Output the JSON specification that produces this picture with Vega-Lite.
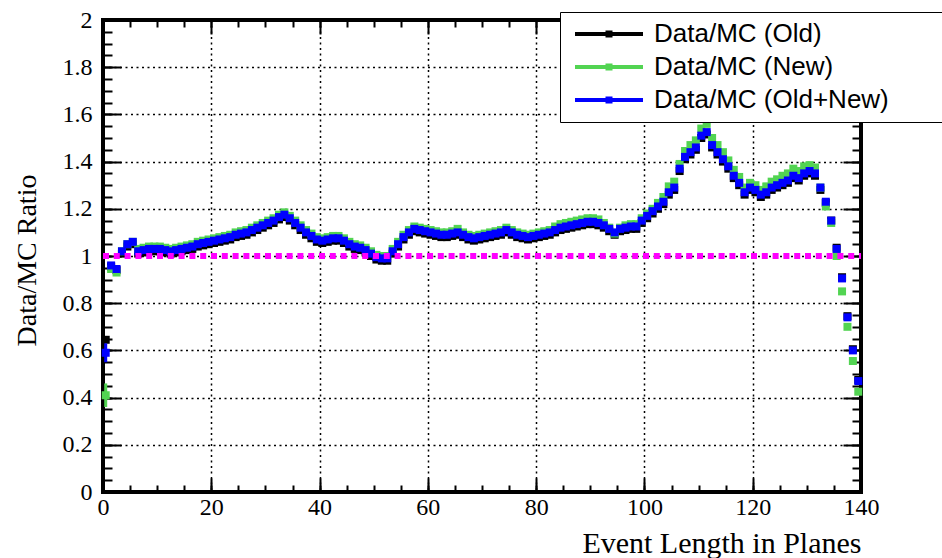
{
  "$schema": "https://vega.github.io/schema/vega-lite/v6.json",
  "width": 758,
  "height": 472,
  "autosize": "none",
  "padding": {"left": 103, "top": 20, "right": 81, "bottom": 66},
  "background": "white",
  "config": {
    "view": {"stroke": "black", "strokeWidth": 4},
    "axis": {
      "labelFont": "Liberation Serif",
      "labelFontSize": 24,
      "labelColor": "black",
      "titleFont": "Liberation Serif",
      "titleFontSize": 28,
      "titleFontWeight": "normal",
      "titleColor": "black",
      "domain": false
    }
  },
  "datasets": {
    "ratio": [
      {"x":0.5,"s1":0.645,"s2":0.41,"s3":0.59},
      {"x":1.5,"s1":0.955,"s2":0.945,"s3":0.96},
      {"x":2.5,"s1":0.94,"s2":0.93,"s3":0.945},
      {"x":3.5,"s1":1.01,"s2":1.02,"s3":1.02},
      {"x":4.5,"s1":1.04,"s2":1.05,"s3":1.05},
      {"x":5.5,"s1":1.05,"s2":1.06,"s3":1.06},
      {"x":6.5,"s1":1.01,"s2":1.03,"s3":1.02},
      {"x":7.5,"s1":1.015,"s2":1.035,"s3":1.025},
      {"x":8.5,"s1":1.02,"s2":1.04,"s3":1.03},
      {"x":9.5,"s1":1.02,"s2":1.04,"s3":1.03},
      {"x":10.5,"s1":1.02,"s2":1.04,"s3":1.03},
      {"x":11.5,"s1":1.015,"s2":1.035,"s3":1.025},
      {"x":12.5,"s1":1.01,"s2":1.03,"s3":1.02},
      {"x":13.5,"s1":1.015,"s2":1.035,"s3":1.025},
      {"x":14.5,"s1":1.02,"s2":1.04,"s3":1.03},
      {"x":15.5,"s1":1.025,"s2":1.045,"s3":1.035},
      {"x":16.5,"s1":1.03,"s2":1.05,"s3":1.04},
      {"x":17.5,"s1":1.04,"s2":1.06,"s3":1.05},
      {"x":18.5,"s1":1.045,"s2":1.065,"s3":1.055},
      {"x":19.5,"s1":1.05,"s2":1.07,"s3":1.06},
      {"x":20.5,"s1":1.055,"s2":1.075,"s3":1.065},
      {"x":21.5,"s1":1.06,"s2":1.08,"s3":1.07},
      {"x":22.5,"s1":1.065,"s2":1.085,"s3":1.075},
      {"x":23.5,"s1":1.07,"s2":1.09,"s3":1.08},
      {"x":24.5,"s1":1.08,"s2":1.10,"s3":1.09},
      {"x":25.5,"s1":1.085,"s2":1.105,"s3":1.095},
      {"x":26.5,"s1":1.09,"s2":1.11,"s3":1.10},
      {"x":27.5,"s1":1.10,"s2":1.12,"s3":1.11},
      {"x":28.5,"s1":1.11,"s2":1.13,"s3":1.12},
      {"x":29.5,"s1":1.12,"s2":1.14,"s3":1.13},
      {"x":30.5,"s1":1.13,"s2":1.15,"s3":1.14},
      {"x":31.5,"s1":1.14,"s2":1.16,"s3":1.15},
      {"x":32.5,"s1":1.155,"s2":1.175,"s3":1.165},
      {"x":33.5,"s1":1.165,"s2":1.185,"s3":1.175},
      {"x":34.5,"s1":1.15,"s2":1.17,"s3":1.16},
      {"x":35.5,"s1":1.13,"s2":1.15,"s3":1.14},
      {"x":36.5,"s1":1.11,"s2":1.13,"s3":1.12},
      {"x":37.5,"s1":1.09,"s2":1.11,"s3":1.10},
      {"x":38.5,"s1":1.075,"s2":1.095,"s3":1.085},
      {"x":39.5,"s1":1.06,"s2":1.08,"s3":1.07},
      {"x":40.5,"s1":1.055,"s2":1.075,"s3":1.065},
      {"x":41.5,"s1":1.06,"s2":1.08,"s3":1.07},
      {"x":42.5,"s1":1.065,"s2":1.085,"s3":1.075},
      {"x":43.5,"s1":1.065,"s2":1.085,"s3":1.075},
      {"x":44.5,"s1":1.055,"s2":1.075,"s3":1.065},
      {"x":45.5,"s1":1.04,"s2":1.06,"s3":1.05},
      {"x":46.5,"s1":1.03,"s2":1.05,"s3":1.04},
      {"x":47.5,"s1":1.025,"s2":1.045,"s3":1.035},
      {"x":48.5,"s1":1.015,"s2":1.035,"s3":1.025},
      {"x":49.5,"s1":1.0,"s2":1.02,"s3":1.01},
      {"x":50.5,"s1":0.985,"s2":1.005,"s3":0.995},
      {"x":51.5,"s1":0.98,"s2":1.0,"s3":0.99},
      {"x":52.5,"s1":0.98,"s2":1.0,"s3":0.99},
      {"x":53.5,"s1":1.01,"s2":1.03,"s3":1.02},
      {"x":54.5,"s1":1.04,"s2":1.06,"s3":1.05},
      {"x":55.5,"s1":1.07,"s2":1.09,"s3":1.08},
      {"x":56.5,"s1":1.09,"s2":1.11,"s3":1.10},
      {"x":57.5,"s1":1.105,"s2":1.125,"s3":1.115},
      {"x":58.5,"s1":1.10,"s2":1.12,"s3":1.11},
      {"x":59.5,"s1":1.095,"s2":1.115,"s3":1.105},
      {"x":60.5,"s1":1.09,"s2":1.11,"s3":1.10},
      {"x":61.5,"s1":1.085,"s2":1.105,"s3":1.095},
      {"x":62.5,"s1":1.08,"s2":1.10,"s3":1.09},
      {"x":63.5,"s1":1.08,"s2":1.10,"s3":1.09},
      {"x":64.5,"s1":1.085,"s2":1.105,"s3":1.095},
      {"x":65.5,"s1":1.09,"s2":1.115,"s3":1.10},
      {"x":66.5,"s1":1.08,"s2":1.10,"s3":1.09},
      {"x":67.5,"s1":1.07,"s2":1.09,"s3":1.08},
      {"x":68.5,"s1":1.065,"s2":1.085,"s3":1.075},
      {"x":69.5,"s1":1.07,"s2":1.09,"s3":1.08},
      {"x":70.5,"s1":1.075,"s2":1.095,"s3":1.085},
      {"x":71.5,"s1":1.08,"s2":1.10,"s3":1.09},
      {"x":72.5,"s1":1.085,"s2":1.105,"s3":1.095},
      {"x":73.5,"s1":1.09,"s2":1.11,"s3":1.10},
      {"x":74.5,"s1":1.10,"s2":1.12,"s3":1.11},
      {"x":75.5,"s1":1.09,"s2":1.11,"s3":1.10},
      {"x":76.5,"s1":1.08,"s2":1.10,"s3":1.09},
      {"x":77.5,"s1":1.075,"s2":1.095,"s3":1.085},
      {"x":78.5,"s1":1.07,"s2":1.09,"s3":1.08},
      {"x":79.5,"s1":1.075,"s2":1.095,"s3":1.085},
      {"x":80.5,"s1":1.08,"s2":1.10,"s3":1.09},
      {"x":81.5,"s1":1.085,"s2":1.105,"s3":1.095},
      {"x":82.5,"s1":1.09,"s2":1.11,"s3":1.10},
      {"x":83.5,"s1":1.10,"s2":1.125,"s3":1.11},
      {"x":84.5,"s1":1.11,"s2":1.135,"s3":1.12},
      {"x":85.5,"s1":1.115,"s2":1.14,"s3":1.125},
      {"x":86.5,"s1":1.12,"s2":1.145,"s3":1.13},
      {"x":87.5,"s1":1.125,"s2":1.15,"s3":1.135},
      {"x":88.5,"s1":1.13,"s2":1.155,"s3":1.14},
      {"x":89.5,"s1":1.135,"s2":1.16,"s3":1.145},
      {"x":90.5,"s1":1.135,"s2":1.16,"s3":1.145},
      {"x":91.5,"s1":1.13,"s2":1.155,"s3":1.14},
      {"x":92.5,"s1":1.12,"s2":1.14,"s3":1.13},
      {"x":93.5,"s1":1.105,"s2":1.12,"s3":1.115},
      {"x":94.5,"s1":1.09,"s2":1.095,"s3":1.10},
      {"x":95.5,"s1":1.105,"s2":1.12,"s3":1.115},
      {"x":96.5,"s1":1.11,"s2":1.13,"s3":1.12},
      {"x":97.5,"s1":1.115,"s2":1.135,"s3":1.125},
      {"x":98.5,"s1":1.115,"s2":1.135,"s3":1.125},
      {"x":99.5,"s1":1.14,"s2":1.16,"s3":1.15},
      {"x":100.5,"s1":1.16,"s2":1.18,"s3":1.17},
      {"x":101.5,"s1":1.18,"s2":1.20,"s3":1.19},
      {"x":102.5,"s1":1.20,"s2":1.225,"s3":1.21},
      {"x":103.5,"s1":1.22,"s2":1.25,"s3":1.23},
      {"x":104.5,"s1":1.26,"s2":1.295,"s3":1.27},
      {"x":105.5,"s1":1.28,"s2":1.315,"s3":1.29},
      {"x":106.5,"s1":1.36,"s2":1.39,"s3":1.37},
      {"x":107.5,"s1":1.41,"s2":1.445,"s3":1.42},
      {"x":108.5,"s1":1.43,"s2":1.47,"s3":1.44},
      {"x":109.5,"s1":1.45,"s2":1.49,"s3":1.46},
      {"x":110.5,"s1":1.50,"s2":1.54,"s3":1.51},
      {"x":111.5,"s1":1.515,"s2":1.56,"s3":1.525},
      {"x":112.5,"s1":1.46,"s2":1.50,"s3":1.47},
      {"x":113.5,"s1":1.43,"s2":1.47,"s3":1.44},
      {"x":114.5,"s1":1.40,"s2":1.44,"s3":1.41},
      {"x":115.5,"s1":1.37,"s2":1.405,"s3":1.38},
      {"x":116.5,"s1":1.33,"s2":1.365,"s3":1.34},
      {"x":117.5,"s1":1.30,"s2":1.335,"s3":1.31},
      {"x":118.5,"s1":1.26,"s2":1.29,"s3":1.27},
      {"x":119.5,"s1":1.28,"s2":1.31,"s3":1.29},
      {"x":120.5,"s1":1.27,"s2":1.30,"s3":1.28},
      {"x":121.5,"s1":1.25,"s2":1.28,"s3":1.26},
      {"x":122.5,"s1":1.26,"s2":1.295,"s3":1.27},
      {"x":123.5,"s1":1.28,"s2":1.315,"s3":1.29},
      {"x":124.5,"s1":1.29,"s2":1.325,"s3":1.30},
      {"x":125.5,"s1":1.30,"s2":1.34,"s3":1.31},
      {"x":126.5,"s1":1.31,"s2":1.35,"s3":1.32},
      {"x":127.5,"s1":1.33,"s2":1.37,"s3":1.34},
      {"x":128.5,"s1":1.32,"s2":1.36,"s3":1.33},
      {"x":129.5,"s1":1.34,"s2":1.38,"s3":1.35},
      {"x":130.5,"s1":1.35,"s2":1.385,"s3":1.36},
      {"x":131.5,"s1":1.34,"s2":1.375,"s3":1.35},
      {"x":132.5,"s1":1.28,"s2":1.29,"s3":1.29},
      {"x":133.5,"s1":1.225,"s2":1.21,"s3":1.23},
      {"x":134.5,"s1":1.15,"s2":1.14,"s3":1.15},
      {"x":135.5,"s1":1.035,"s2":1.0,"s3":1.03},
      {"x":136.5,"s1":0.91,"s2":0.85,"s3":0.905},
      {"x":137.5,"s1":0.745,"s2":0.70,"s3":0.74},
      {"x":138.5,"s1":0.605,"s2":0.555,"s3":0.60},
      {"x":139.5,"s1":0.475,"s2":0.425,"s3":0.47}
    ],
    "errs": [
      {"x":0.5,"series":"s3","lo":0.55,"hi":0.63},
      {"x":0.5,"series":"s2","lo":0.36,"hi":0.46}
    ],
    "unity": [{"a":0,"b":140,"v":1}]
  },
  "layer": [
    {
      "data": {"name": "ratio"},
      "transform": [{"fold": ["s1","s2","s3"], "as": ["series","ratio"]}],
      "mark": {"type": "point", "filled": true, "shape": "square", "size": 64, "opacity": 1},
      "encoding": {
        "x": {"field": "x", "type": "quantitative",
          "scale": {"domain": [0,140], "nice": false, "zero": false},
          "axis": {"orient": "bottom", "values": [0,20,40,60,80,100,120,140], "format": "d",
            "ticks": false, "grid": true, "gridColor": "black", "gridDash": [2,3.5], "gridWidth": 1.5, "gridOpacity": 1,
            "labelPadding": 3, "labelFlush": false, "labelOverlap": false,
            "title": "Event Length in Planes", "titleFontSize": 30, "titleX": 758, "titleY": 60, "titleAlign": "right", "titleBaseline": "alphabetic"}},
        "y": {"field": "ratio", "type": "quantitative",
          "scale": {"domain": [0,2], "nice": false, "zero": false},
          "axis": {"orient": "left", "values": [0,0.2,0.4,0.6,0.8,1,1.2,1.4,1.6,1.8,2], "format": "~g",
            "ticks": false, "grid": true, "gridColor": "black", "gridDash": [2,3.5], "gridWidth": 1.5, "gridOpacity": 1,
            "labelPadding": 11, "labelFlush": false, "labelOverlap": false,
            "title": "Data/MC Ratio", "titleX": -76, "titleY": 240, "titleAlign": "center", "titleBaseline": "middle"}},
        "color": {"field": "series", "type": "nominal",
          "scale": {"domain": ["s1","s2","s3"], "range": ["#000000","#52d452","#0000ff"]},
          "legend": {"title": null, "orient": "none", "legendX": 457, "legendY": -8,
            "symbolType": "M-3.4,-0.2H3.4V0.2H-3.4Z M-0.35,-0.35H0.35V0.35H-0.35Z",
            "symbolSize": 400, "symbolStrokeWidth": 0, "symbolOffset": 27,
            "labelFont": "Liberation Sans", "labelFontSize": 26, "labelColor": "black", "labelLimit": 0,
            "labelOffset": 32,
            "labelExpr": "datum.value == 's1' ? 'Data/MC (Old)' : datum.value == 's2' ? 'Data/MC (New)' : 'Data/MC (Old+New)\u2800\u2800\u2800\u2800\u2800\u2800'",
            "strokeColor": "black", "fillColor": "white", "padding": 9, "rowPadding": 7}},
        "order": {"field": "series", "sort": "ascending"}
      }
    },
    {
      "data": {"name": "errs"},
      "mark": {"type": "rule", "strokeWidth": 3},
      "encoding": {
        "x": {"field": "x", "type": "quantitative",
          "scale": {"domain": [0,140], "nice": false, "zero": false},
          "axis": {"orient": "bottom", "offset": -14, "values": [0,20,40,60,80,100,120,140], "labels": false, "grid": false,
            "ticks": true, "tickSize": 14, "tickWidth": 2, "tickColor": "black", "title": null}},
        "y": {"field": "lo", "type": "quantitative",
          "scale": {"domain": [0,2], "nice": false, "zero": false},
          "axis": {"orient": "left", "offset": -18, "values": [0,0.2,0.4,0.6,0.8,1,1.2,1.4,1.6,1.8,2], "labels": false, "grid": false,
            "ticks": true, "tickSize": 18, "tickWidth": 2, "tickColor": "black", "title": null}},
        "y2": {"field": "hi"},
        "color": {"field": "series", "type": "nominal"}
      }
    },
    {
      "data": {"name": "unity"},
      "mark": {"type": "rule", "color": "#ff00ff", "strokeWidth": 6, "strokeDash": [6,4.8]},
      "encoding": {
        "x": {"field": "a", "type": "quantitative",
          "scale": {"domain": [0,140], "nice": false, "zero": false},
          "axis": {"orient": "bottom", "offset": -7, "values": [0,5,10,15,20,25,30,35,40,45,50,55,60,65,70,75,80,85,90,95,100,105,110,115,120,125,130,135,140],
            "labels": false, "grid": false, "ticks": true, "tickSize": 7, "tickWidth": 2, "tickColor": "black", "title": null}},
        "x2": {"field": "b"},
        "y": {"field": "v", "type": "quantitative",
          "scale": {"domain": [0,2], "nice": false, "zero": false},
          "axis": {"orient": "left", "offset": -9, "values": [0,0.05,0.1,0.15,0.2,0.25,0.3,0.35,0.4,0.45,0.5,0.55,0.6,0.65,0.7,0.75,0.8,0.85,0.9,0.95,1,1.05,1.1,1.15,1.2,1.25,1.3,1.35,1.4,1.45,1.5,1.55,1.6,1.65,1.7,1.75,1.8,1.85,1.9,1.95,2],
            "labels": false, "grid": false, "ticks": true, "tickSize": 9, "tickWidth": 2, "tickColor": "black", "title": null}}
      }
    },
    {
      "data": {"name": "unity"},
      "mark": {"type": "rule", "opacity": 0},
      "encoding": {
        "x": {"field": "a", "type": "quantitative",
          "scale": {"domain": [0,140], "nice": false, "zero": false},
          "axis": {"orient": "top", "offset": -14, "values": [0,20,40,60,80,100,120,140], "labels": false, "grid": false,
            "ticks": true, "tickSize": 14, "tickWidth": 2, "tickColor": "black", "title": null}},
        "x2": {"field": "b"},
        "y": {"field": "v", "type": "quantitative",
          "scale": {"domain": [0,2], "nice": false, "zero": false},
          "axis": {"orient": "right", "offset": -18, "values": [0,0.2,0.4,0.6,0.8,1,1.2,1.4,1.6,1.8,2], "labels": false, "grid": false,
            "ticks": true, "tickSize": 18, "tickWidth": 2, "tickColor": "black", "title": null}}
      }
    },
    {
      "data": {"name": "unity"},
      "mark": {"type": "rule", "opacity": 0},
      "encoding": {
        "x": {"field": "a", "type": "quantitative",
          "scale": {"domain": [0,140], "nice": false, "zero": false},
          "axis": {"orient": "top", "offset": -7, "values": [0,5,10,15,20,25,30,35,40,45,50,55,60,65,70,75,80,85,90,95,100,105,110,115,120,125,130,135,140],
            "labels": false, "grid": false, "ticks": true, "tickSize": 7, "tickWidth": 2, "tickColor": "black", "title": null}},
        "x2": {"field": "b"},
        "y": {"field": "v", "type": "quantitative",
          "scale": {"domain": [0,2], "nice": false, "zero": false},
          "axis": {"orient": "right", "offset": -9, "values": [0,0.05,0.1,0.15,0.2,0.25,0.3,0.35,0.4,0.45,0.5,0.55,0.6,0.65,0.7,0.75,0.8,0.85,0.9,0.95,1,1.05,1.1,1.15,1.2,1.25,1.3,1.35,1.4,1.45,1.5,1.55,1.6,1.65,1.7,1.75,1.8,1.85,1.9,1.95,2],
            "labels": false, "grid": false, "ticks": true, "tickSize": 9, "tickWidth": 2, "tickColor": "black", "title": null}}
      }
    }
  ],
  "resolve": {"axis": {"x": "independent", "y": "independent"}}
}
